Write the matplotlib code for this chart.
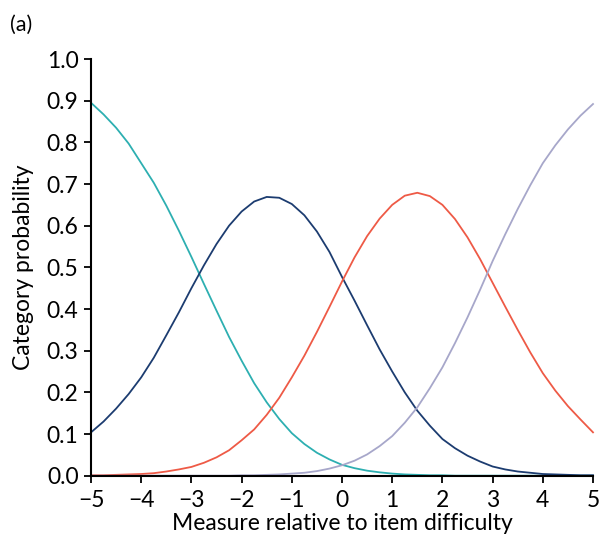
import matplotlib
matplotlib.use("Agg")
import matplotlib.pyplot as plt

# measure relative to item difficulty (0.25 steps)
x = [-5.0, -4.75, -4.5, -4.25, -4.0, -3.75, -3.5, -3.25, -3.0, -2.75,
     -2.5, -2.25, -2.0, -1.75, -1.5, -1.25, -1.0, -0.75, -0.5, -0.25,
     0.0, 0.25, 0.5, 0.75, 1.0, 1.25, 1.5, 1.75, 2.0, 2.25,
     2.5, 2.75, 3.0, 3.25, 3.5, 3.75, 4.0, 4.25, 4.5, 4.75, 5.0]

# category probabilities
cat0 = [0.895, 0.867, 0.835, 0.797, 0.750, 0.703, 0.648, 0.588, 0.525, 0.460,
        0.396, 0.333, 0.276, 0.222, 0.176, 0.136, 0.102, 0.076, 0.055, 0.039,
        0.026, 0.018, 0.012, 0.008, 0.005, 0.003, 0.002, 0.001, 0.001, 0.0,
        0.0, 0.0, 0.0, 0.0, 0.0, 0.0, 0.0, 0.0, 0.0, 0.0, 0.0]
cat1 = [0.104, 0.130, 0.161, 0.196, 0.236, 0.283, 0.337, 0.392, 0.450, 0.505,
        0.556, 0.600, 0.634, 0.658, 0.669, 0.667, 0.652, 0.625, 0.586, 0.537,
        0.477, 0.420, 0.361, 0.303, 0.250, 0.200, 0.156, 0.120, 0.088, 0.066,
        0.048, 0.034, 0.022, 0.015, 0.010, 0.007, 0.004, 0.003, 0.002, 0.001, 0.001]
cat2 = [0.001, 0.001, 0.002, 0.003, 0.004, 0.006, 0.010, 0.015, 0.021, 0.031,
        0.044, 0.061, 0.085, 0.111, 0.146, 0.187, 0.236, 0.288, 0.345, 0.405,
        0.466, 0.524, 0.575, 0.617, 0.650, 0.672, 0.679, 0.671, 0.650, 0.616,
        0.572, 0.520, 0.463, 0.406, 0.350, 0.296, 0.246, 0.204, 0.167, 0.135, 0.104]
cat3 = [0.0, 0.0, 0.0, 0.0, 0.0, 0.0, 0.0, 0.0, 0.0, 0.0,
        0.0, 0.0, 0.001, 0.001, 0.002, 0.003, 0.005, 0.007, 0.011, 0.017,
        0.025, 0.036, 0.051, 0.071, 0.095, 0.127, 0.164, 0.210, 0.260, 0.318,
        0.380, 0.446, 0.515, 0.579, 0.640, 0.697, 0.750, 0.793, 0.831, 0.864, 0.892]

colors = ["#2DAFB1", "#1C3C70", "#EE5A46", "#A7A7CA"]

plt.rcParams["font.family"] = ["Lato", "DejaVu Sans"]

fig = plt.figure(figsize=(6.04, 5.45), dpi=100)
ax = fig.add_axes([0.1507, 0.1272, 0.8311, 0.7645])

for ys, c in zip([cat0, cat1, cat2, cat3], colors):
    ax.plot(x, ys, color=c, lw=1.3, solid_joinstyle="round", clip_on=False)

ax.set_xlim(-5, 5)
ax.set_ylim(0, 1.0)
ax.set_xticks(range(-5, 6))
ax.set_yticks([i / 10 for i in range(11)])
ax.set_yticklabels(["%.1f" % (i / 10) for i in range(11)])

# frame: left and bottom only
ax.spines["top"].set_visible(False)
ax.spines["right"].set_visible(False)
ax.spines["left"].set_linewidth(1.5)
ax.spines["bottom"].set_linewidth(1.5)
ax.tick_params(axis="both", direction="out", length=5, width=1.3,
               labelsize=16.5, colors="black")
ax.tick_params(axis="x", pad=5)
ax.tick_params(axis="y", pad=4)

ax.set_xlabel("Measure relative to item difficulty", fontsize=16.5, labelpad=2)
ax.set_ylabel("Category probability", fontsize=16.5, labelpad=9)

fig.text(0.017, 0.955, "(a)", fontsize=15.5, ha="left", va="center")

fig.savefig("out.png", dpi=100)
